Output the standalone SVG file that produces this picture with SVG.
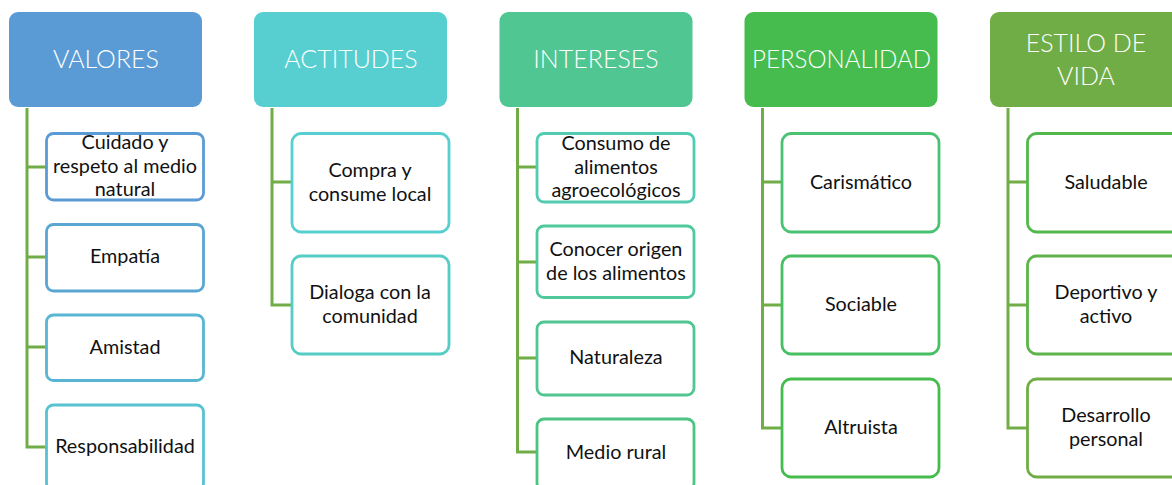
<svg xmlns="http://www.w3.org/2000/svg" width="1172" height="485" viewBox="0 0 1172 485">
<style>
text{font-family:"Lato","Open Sans","Liberation Sans",sans-serif;text-anchor:middle}
.h text{fill:#fff;font-size:25px;font-weight:300}
.c rect{fill:#fff;stroke-width:2.8}
.c text{fill:#111;font-size:19.800px}
#connectors path{fill:none;stroke:#70ad47;stroke-width:3}
</style>
<g id="connectors">
<path d="M27 108V447H46M27 167H46M27 257H46M27 347H46"/>
<path d="M272 108V305H292M272 182H292"/>
<path d="M517.500 108V452H537M517.500 167H537M517.500 262H537M517.500 358H537"/>
<path d="M762.500 108V428H782M762.500 182H782M762.500 305H782"/>
<path d="M1008 108V428H1027M1008 182H1027M1008 305H1027"/>
</g>
<g id="valores" class="h"><rect x="9" y="12" width="193" height="95" rx="9" fill="#5b9bd5"/><text x="106" y="68">VALORES</text></g>
<g id="actitudes" class="h"><rect x="254" y="12" width="193" height="95" rx="9" fill="#57cfd0"/><text x="351" y="68">ACTITUDES</text></g>
<g id="intereses" class="h"><rect x="499.500" y="12" width="193" height="95" rx="9" fill="#50c692"/><text x="596" y="68">INTERESES</text></g>
<g id="personalidad" class="h"><rect x="744.500" y="12" width="193" height="95" rx="9" fill="#46bc4f"/><text x="841.500" y="68" textLength="179" lengthAdjust="spacingAndGlyphs">PERSONALIDAD</text></g>
<g id="estilo" class="h"><rect x="990" y="12" width="193" height="95" rx="9" fill="#70ad47"/><text x="1086" y="52">ESTILO DE</text><text x="1086" y="85">VIDA</text></g>
<g id="v1" class="c"><rect x="46.500" y="133.500" width="157" height="66.500" rx="7" stroke="#5b9bd5"/><text x="125" y="149">Cuidado y</text><text x="125" y="173">respeto al medio</text><text x="125" y="196">natural</text></g>
<g id="v2" class="c"><rect x="46.500" y="224.500" width="157" height="66.500" rx="7" stroke="#5aa6d3"/><text x="125" y="263">Empatía</text></g>
<g id="v3" class="c"><rect x="46.500" y="315" width="157" height="65.500" rx="7" stroke="#58b5d3"/><text x="125" y="354">Amistad</text></g>
<g id="v4" class="c"><rect x="46.500" y="405" width="157" height="85" rx="7" stroke="#57c3d2"/><text x="125" y="453">Responsabilidad</text></g>
<g id="a1" class="c"><rect x="292" y="133.500" width="157" height="98.500" rx="9" stroke="#57cfd0"/><text x="370" y="177">Compra y</text><text x="370" y="201">consume local</text></g>
<g id="a2" class="c"><rect x="292" y="256" width="157" height="98" rx="9" stroke="#55ccc4"/><text x="370" y="299">Dialoga con la</text><text x="370" y="323">comunidad</text></g>
<g id="i1" class="c"><rect x="537" y="133.500" width="157" height="68.500" rx="7" stroke="#53cbb0"/><text x="616" y="150">Consumo de</text><text x="616" y="174">alimentos</text><text x="616" y="197">agroecológicos</text></g>
<g id="i2" class="c"><rect x="537" y="226" width="157" height="71.500" rx="7" stroke="#50c99c"/><text x="616" y="256">Conocer origen</text><text x="616" y="280">de los alimentos</text></g>
<g id="i3" class="c"><rect x="537" y="322" width="157" height="73" rx="7" stroke="#50c692"/><text x="616" y="364">Naturaleza</text></g>
<g id="i4" class="c"><rect x="537" y="419" width="157" height="71" rx="7" stroke="#4cc482"/><text x="616" y="459">Medio rural</text></g>
<g id="p1" class="c"><rect x="782" y="133.500" width="157" height="98.500" rx="9" stroke="#4ac273"/><text x="861" y="189">Carismático</text></g>
<g id="p2" class="c"><rect x="782" y="256" width="157" height="98" rx="9" stroke="#47bf62"/><text x="861" y="311">Sociable</text></g>
<g id="p3" class="c"><rect x="782" y="379" width="157" height="98" rx="9" stroke="#46bc4f"/><text x="861" y="434">Altruista</text></g>
<g id="e1" class="c"><rect x="1027.500" y="133.500" width="157" height="98.500" rx="9" stroke="#52b84c"/><text x="1106" y="189">Saludable</text></g>
<g id="e2" class="c"><rect x="1027.500" y="256" width="157" height="98" rx="9" stroke="#5eb34a"/><text x="1106" y="299">Deportivo y</text><text x="1106" y="323">activo</text></g>
<g id="e3" class="c"><rect x="1027.500" y="379" width="157" height="98" rx="9" stroke="#70ad47"/><text x="1106" y="422">Desarrollo</text><text x="1106" y="446">personal</text></g>
</svg>
